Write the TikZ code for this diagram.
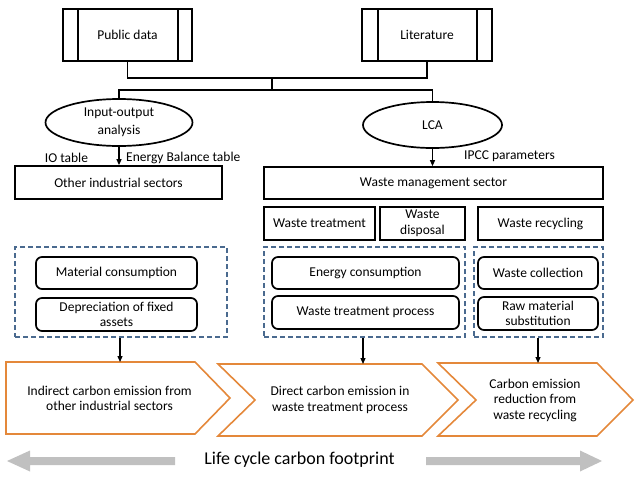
\documentclass[tikz,border=0pt]{standalone}
\usepackage{fontspec}
\setmainfont{Carlito}
\usetikzlibrary{shapes.geometric,arrows.meta,calc}
\definecolor{dashblue}{HTML}{4A6A8F}
\definecolor{chevorange}{HTML}{E4883A}
\definecolor{arrowgray}{HTML}{C0C0C0}
\tikzset{
  txt/.style={font=\fontsize{13.5}{15.5}\selectfont, align=center, inner sep=0pt},
  srcbox/.style={draw, line width=1.7pt, minimum width=129pt, minimum height=52pt, txt},
  sqbox/.style={draw, line width=1.7pt, minimum height=33pt, txt},
  rbox/.style={draw, line width=1.7pt, rounded corners=6pt, minimum height=32pt, txt},
  ell/.style={draw, ellipse, line width=1.7pt, font=\fontsize{13.5}{18.5}\selectfont, align=center, inner sep=0pt},
  dbox/.style={draw=dashblue, dashed, dash pattern=on 5pt off 3pt, line width=1.4pt, inner sep=0pt},
  conn/.style={line width=1.2pt},
  arr/.style={line width=1.2pt, -{Triangle[length=6pt,width=5pt]}},
  chev/.style={draw=chevorange, line width=1.6pt},
  lbl/.style={font=\fontsize{13.5}{15.5}\selectfont, inner sep=0pt}
}
\begin{document}
\begin{tikzpicture}[x=1pt,y=-1pt]
\useasboundingbox (0,0) rectangle (640,477);
% sources
\node[srcbox] (pub) at (127.5,35) {Public data};
\draw[line width=1.7pt] ([xshift=16pt]pub.north west) -- ([xshift=16pt]pub.south west);
\draw[line width=1.7pt] ([xshift=-15pt]pub.north east) -- ([xshift=-15pt]pub.south east);
\node[srcbox, minimum width=130pt] (lit) at (427,35) {Literature};
\draw[line width=1.7pt] ([xshift=17pt]lit.north west) -- ([xshift=17pt]lit.south west);
\draw[line width=1.7pt] ([xshift=-16pt]lit.north east) -- ([xshift=-16pt]lit.south east);
% ellipses
\node[ell, minimum width=147pt, minimum height=47pt] (io) at (119,122.5) {Input-output\\analysis};
\node[ell, minimum width=139pt, minimum height=46pt] (lca) at (432.5,125) {LCA};
% junction
\coordinate (j1) at (272,78);
\coordinate (j2) at (272,90);
\draw[conn] (pub.south) |- (j1) -| (lit.south);
\draw[conn] (j1) -- (j2);
\draw[conn] (io.north) |- (j2) -| (lca.north);
% sector boxes
\node[sqbox, minimum width=207pt] (ois) at (118.5,182.5) {Other industrial sectors};
\node[sqbox, minimum width=339pt, minimum height=32pt] (wms) at (433.5,183) {Waste management sector};
\draw[arr] (io.south) -- (io.south |- ois.north);
\draw[arr] (lca.south) -- (lca.south |- wms.north);
\node[lbl] (iot) at (66.5,158) {IO table};
\node[lbl, anchor=west] (ebt) at (126,158) {Energy Balance table};
\node[lbl, anchor=west] (ipcc) at (464,156) {IPCC parameters};
% sub boxes
\node[sqbox, minimum width=111pt] (wt) at (319.5,223.5) {Waste treatment};
\node[sqbox, minimum width=85pt] (wd) at (422.5,223.5) {Waste\\disposal};
\node[sqbox, minimum width=125pt] (wr) at (540.5,223.5) {Waste recycling};
% dashed groups
\node[dbox, minimum width=212pt, minimum height=90pt] (d1) at (121,292) {};
\node[dbox, minimum width=201pt, minimum height=90pt] (d2) at (364.5,292) {};
\node[dbox, minimum width=129pt, minimum height=90pt] (d3) at (538.5,292) {};
% rounded boxes
\node[rbox, minimum width=161pt] (mc) at (116.5,273) {Material consumption};
\node[rbox, minimum width=161pt, minimum height=33pt] (dep) at (116.5,314.5) {Depreciation of fixed\\assets};
\node[rbox, minimum width=187pt] (ec) at (365.5,273) {Energy consumption};
\node[rbox, minimum width=187pt, minimum height=33pt] (wtp) at (365.5,312.5) {Waste treatment process};
\node[rbox, minimum width=120pt] (wc) at (538,273) {Waste collection};
\node[rbox, minimum width=120pt, minimum height=33pt] (rms) at (538,313.5) {Raw material\\substitution};
% chevrons
\draw[chev] (6,362) -- (195,362) -- (230,398) -- (195,434) -- (6,434) -- cycle;
\draw[chev] (218,364) -- (422,364) -- (458,400) -- (422,436) -- (218,436) -- (255,400) -- cycle;
\draw[chev] (438,363) -- (597,363) -- (633,400) -- (597,436) -- (438,436) -- (476,400) -- cycle;
\node[txt] (c1) at (109.5,398.5) {Indirect carbon emission from\\other industrial sectors};
\node[txt] (c2) at (340,400) {Direct carbon emission in\\waste treatment process};
\node[txt] (c3) at (535,400) {Carbon emission\\reduction from\\waste recycling};
\coordinate (c1t) at (120,362);
\coordinate (c2t) at (363,364);
\coordinate (c3t) at (538,363);
\draw[arr] (c1t |- d1.south) -- (c1t);
\draw[arr] (c2t |- d2.south) -- (c2t);
\draw[arr] (c3t |- d3.south) -- (c3t);
% footprint
\node[font=\fontsize{18}{20}\selectfont, inner sep=0pt] (lcf) at (299.5,460) {Life cycle carbon footprint};
\fill[arrowgray] (7,461) -- (30,450.5) -- (30,457) -- (175,457) -- (175,465) -- (30,465) -- (30,471.5) -- cycle;
\fill[arrowgray] (602,461) -- (580,450.5) -- (580,457) -- (426,457) -- (426,465) -- (580,465) -- (580,471.5) -- cycle;
\end{tikzpicture}
\end{document}
